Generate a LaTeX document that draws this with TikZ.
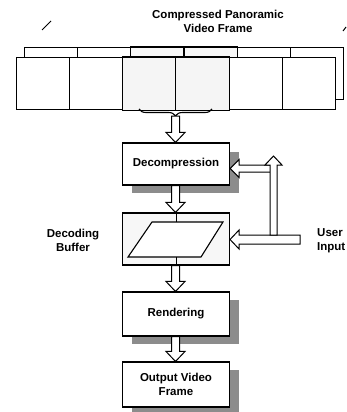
\documentclass[tikz,border=0pt]{standalone}
\usepackage{fontspec}
\setmainfont{Liberation Sans}
\usetikzlibrary{calc,decorations.pathreplacing}
% hollow block arrows: #1 start, #2 tip
\newcommand\arrdown[2]{\draw[blk] let \p1=#1, \p2=#2 in
  ({\x1-4pt},\y1) -- ({\x1-4pt},{\y2+10pt}) -- ({\x1-9.5pt},{\y2+10pt}) -- (\x1,\y2)
  -- ({\x1+9.5pt},{\y2+10pt}) -- ({\x1+4pt},{\y2+10pt}) -- ({\x1+4pt},\y1) -- cycle;}
\newcommand\arrup[2]{\draw[blk] let \p1=#1, \p2=#2 in
  ({\x1-3.5pt},\y1) -- ({\x1-3.5pt},{\y2-9pt}) -- ({\x1-8.5pt},{\y2-9pt}) -- (\x1,\y2)
  -- ({\x1+8.5pt},{\y2-9pt}) -- ({\x1+3.5pt},{\y2-9pt}) -- ({\x1+3.5pt},\y1) -- cycle;}
% #3 half shaft, #4 half head
\newcommand\arrleft[4]{\draw[blk] let \p1=#1, \p2=#2 in
  (\x1,{\y1+#3}) -- ({\x2+9pt},{\y1+#3}) -- ({\x2+9pt},{\y1+#4}) -- (\x2,\y1)
  -- ({\x2+9pt},{\y1-#4}) -- ({\x2+9pt},{\y1-#3}) -- (\x1,{\y1-#3}) -- cycle;}
\begin{document}
\begin{tikzpicture}[x=1pt,y=-1pt,
  box/.style={draw,line width=1.1pt,fill=white,inner sep=0pt},
  fbox/.style={box,minimum width=53.2pt,minimum height=52pt,anchor=north west},
  pbox/.style={box,minimum width=107pt,align=center,
     font=\fontsize{11.5}{14}\selectfont\bfseries},
  lbl/.style={inner sep=0pt,font=\fontsize{11.5}{14}\selectfont\bfseries},
  blk/.style={draw,line width=1pt,fill=white,line join=miter},
  shade/.style={fill=black!45,draw=none}]
\useasboundingbox (0,0) rectangle (346,412);

% title
\node[lbl,align=center] (title) at (218,21) {Compressed Panoramic\\Video Frame};
\draw[line width=1pt] (42,30) coordinate (sl1) -- (51,21) coordinate (sl2);
\draw[line width=1pt] (343,31) coordinate (sr1) -- (346,27) coordinate (sr2);

% back row of frame
\foreach \i in {0,...,5}
  \node[fbox] (b\i) at ({24+53.2*\i},47) {};
\path[fill=black!3] (b2.north west) rectangle (b3.south east);
\draw[line width=1.1pt] (b2.north west) rectangle (b2.south east)
  (b3.north west) rectangle (b3.south east);
% front row of frame
\foreach \i in {0,...,5}
  \node[fbox] (f\i) at ({16+53.2*\i},57) {};
\draw[line width=1.1pt,fill=black!4] (f2.north west) rectangle (f2.south east);
\draw[line width=1.1pt,fill=black!4] (f3.north west) rectangle (f3.south east);

% brace under the two selected tiles
\draw[line width=1.1pt,decorate,decoration={brace,amplitude=7pt,mirror}]
  (139,109) coordinate (br1) -- (212,109) coordinate (br2);
\coordinate (bt) at (175.5,116);

% shadows
\fill[shade] (132,152) rectangle (238.5,193);
\fill[shade] (132,300) rectangle (238.5,344);
\fill[shade] (132,370) rectangle (238.5,416);

% process boxes
\node[pbox,minimum height=42pt] (decomp) at (176,164) {Decompression};
\node[pbox,minimum height=52pt,fill=black!3] (buffer) at (176,239) {};
\node[pbox,minimum height=44pt] (render) at (176,314) {Rendering};
\node[pbox,minimum height=45pt] (output) at (176,384.5) {Output Video\\Frame};

% parallelogram in the buffer
\draw[line width=1.1pt,line join=miter,fill=white] (152,222) coordinate (pa) -- (223,222) coordinate (pb)
  -- (201,257) coordinate (pc) -- (128,257) coordinate (pd) -- cycle;
\draw[line width=1pt] (buffer.north) -- (buffer.north |- pa);
\draw[line width=1pt] (buffer.south) -- (buffer.south |- pc);

% labels
\node[lbl,align=center] (dblbl) at (73,240) {Decoding\\Buffer};
\node[lbl,align=left,anchor=west] (uilbl) at (317,240.5) {User\\Input};

% main flow arrows
\arrdown{(bt)}{(decomp.north -| bt)}
\arrdown{(decomp.south -| bt)}{(buffer.north -| bt)}
\arrdown{(buffer.south -| bt)}{(render.north -| bt)}
\arrdown{(render.south -| bt)}{(output.north -| bt)}

% user input arrows
\coordinate (ui) at (300,239.5);
\coordinate (ua) at (273.5,168.5);
\coordinate (jn) at (273.5,235);
\coordinate (vt) at (273.5,156);
\arrleft{(ui)}{(ui -| buffer.east)}{4.5pt}{9.5pt}
\arrleft{(ua)}{(ua -| decomp.east)}{3.5pt}{9pt}
\arrup{(jn)}{(vt)}
\end{tikzpicture}
\end{document}
